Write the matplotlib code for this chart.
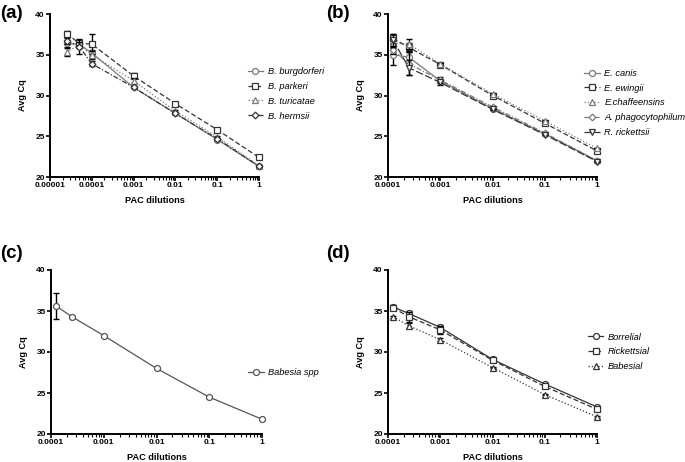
import numpy as np
import matplotlib
matplotlib.use("Agg")
import matplotlib.pyplot as plt
from matplotlib.ticker import LogLocator, FixedLocator, NullFormatter

plt.rcParams['font.family'] = ['Liberation Sans', 'DejaVu Sans']

# ---- data ----
dil_a = [2.5e-5, 5e-5, 1e-4, 1e-3, 1e-2, 1e-1, 1]
burgdorferi = [36.4, 36.3, 35.2, 31.0, 27.8, 24.6, 21.3]
burgdorferi_err = [0.4, 0.3, 0.4, 0.1, 0.1, 0.1, 0.1]
parkeri = [37.6, 36.4, 36.3, 32.4, 29.0, 25.8, 22.4]
parkeri_err = [0.3, 0.4, 1.2, 0.3, 0.1, 0.1, 0.1]
turicatae = [35.3, 36.2, 35.0, 31.8, 28.1, 24.9, 21.4]
turicatae_err = [0.5, 0.4, 0.5, 0.3, 0.1, 0.1, 0.1]
hermsii = [36.7, 36.0, 33.9, 31.0, 27.8, 24.7, 21.3]
hermsii_err = [0.4, 0.9, 0.3, 0.1, 0.1, 0.1, 0.1]

dil_b = [1.25e-4, 2.5e-4, 1e-3, 1e-2, 1e-1, 1]
canis = [35.0, 34.7, 31.8, 28.4, 25.3, 22.0]
canis_err = [1.3, 0.8, 0.2, 0.1, 0.1, 0.1]
ewingii = [37.0, 35.9, 33.8, 30.0, 26.6, 23.2]
ewingii_err = [0.5, 0.6, 0.1, 0.1, 0.1, 0.1]
chaffeensins = [36.4, 36.3, 33.9, 30.2, 26.9, 23.5]
chaffeensins_err = [0.6, 0.6, 0.1, 0.1, 0.1, 0.1]
phagocytophilum = [35.6, 33.9, 31.9, 28.6, 25.4, 22.0]
phagocytophilum_err = [0.5, 1.4, 0.4, 0.1, 0.1, 0.1]
rickettsii = [36.8, 33.4, 31.6, 28.3, 25.2, 21.9]
rickettsii_err = [0.8, 0.9, 0.3, 0.1, 0.1, 0.1]

dil_c = [1.25e-4, 2.5e-4, 1e-3, 1e-2, 1e-1, 1]
babesia = [35.6, 34.3, 32.0, 28.0, 24.5, 21.8]
babesia_err = [1.6, 0.1, 0.1, 0.1, 0.1, 0.1]

dil_d = [1.25e-4, 2.5e-4, 1e-3, 1e-2, 1e-1, 1]
borrelial = [35.5, 34.7, 33.0, 29.1, 26.1, 23.3]
borrelial_err = [0.2, 0.3, 0.3, 0.1, 0.1, 0.1]
rickettsial = [35.4, 34.3, 32.7, 29.0, 25.8, 23.0]
rickettsial_err = [0.2, 0.6, 0.5, 0.1, 0.1, 0.1]
babesial = [34.3, 33.2, 31.5, 28.1, 24.8, 22.1]
babesial_err = [0.1, 0.3, 0.2, 0.1, 0.1, 0.1]

xticks_a = [1e-5, 1e-4, 1e-3, 1e-2, 1e-1, 1]
xlabels_a = ['0.00001', '0.0001', '0.001', '0.01', '0.1', '1']
xticks_b = [1e-4, 1e-3, 1e-2, 1e-1, 1]
xlabels_b = ['0.0001', '0.001', '0.01', '0.1', '1']
yticks = [20, 25, 30, 35, 40]

W, H = 685, 462
fig = plt.figure(figsize=(W / 100, H / 100), dpi=100)


def px_axes(l, r, t, b):
    return fig.add_axes([l / W, 1 - b / H, (r - l) / W, (b - t) / H])


def style(ax, xt, xl):
    ax.set_xscale('log')
    ax.set_xlim(xt[0], xt[-1])
    ax.set_ylim(20, 40)
    ax.xaxis.set_major_locator(FixedLocator(xt))
    ax.set_xticklabels(xl)
    ax.xaxis.set_minor_locator(LogLocator(base=10, subs=np.arange(2, 10)))
    ax.xaxis.set_minor_formatter(NullFormatter())
    ax.set_yticks(yticks)
    for s in ['top', 'right']:
        ax.spines[s].set_visible(False)
    for s in ['left', 'bottom']:
        ax.spines[s].set_linewidth(1.4)
    ax.tick_params(which='major', direction='out', length=3, width=1.2, labelsize=6, pad=0.8)
    ax.tick_params(which='minor', direction='out', length=1.8, width=0.8)
    for lab in ax.get_xticklabels() + ax.get_yticklabels():
        lab.set_fontweight('bold')
    ax.set_xlabel('PAC dilutions', fontsize=6.6, fontweight='bold', labelpad=5)
    ax.set_ylabel('Avg Cq', fontsize=6.6, fontweight='bold', labelpad=6)


def series(ax, x, y, e, label, marker, ls, color, ms=4.3):
    ax.errorbar(x, y, yerr=e, fmt='none', ecolor='black',
                elinewidth=1.0, capsize=2.5, capthick=1.0, clip_on=False)
    ax.plot(x, y, label=label, marker=marker, ls=ls, color=color,
            mfc='white', mec=color, ms=ms, lw=0.9, mew=0.9, clip_on=False)


def legend(ax, x, y):
    leg = ax.legend(loc='center left', bbox_to_anchor=(x, y), frameon=False,
                    handlelength=1.7, handletextpad=0.45, labelspacing=0.62,
                    borderaxespad=0, borderpad=0,
                    prop={'style': 'italic', 'size': 6.7})
    return leg


gray = '#7a7a7a'
dk = '#333333'

# (a)
ax = px_axes(50, 259, 14, 177)
series(ax, dil_a, burgdorferi, burgdorferi_err, 'B. burgdorferi', 'o', '-', gray)
series(ax, dil_a, parkeri, parkeri_err, 'B. parkeri', 's', (0, (4, 2)), dk)
series(ax, dil_a, turicatae, turicatae_err, 'B. turicatae', '^', ':', gray)
series(ax, dil_a, hermsii, hermsii_err, 'B. hermsii', 'D', (0, (4, 1.5, 1, 1.5)), dk, ms=3.4)
style(ax, xticks_a, xlabels_a)
legend(ax, 0.945, 0.51)

# (b)
ax = px_axes(388, 597, 14, 177)
series(ax, dil_b, canis, canis_err, 'E. canis', 'o', '-', gray)
series(ax, dil_b, ewingii, ewingii_err, 'E. ewingii', 's', (0, (4, 2)), dk)
series(ax, dil_b, chaffeensins, chaffeensins_err, 'E.chaffeensins', '^', ':', gray)
series(ax, dil_b, phagocytophilum, phagocytophilum_err, 'A. phagocytophilum', 'D', (0, (4, 1.5, 1, 1.5)), gray, ms=3.4)
series(ax, dil_b, rickettsii, rickettsii_err, 'R. rickettsii', 'v', (0, (6, 2)), dk)
style(ax, xticks_b, xlabels_b)
legend(ax, 0.94, 0.455)

# (c)
ax = px_axes(51, 262, 270, 434)
series(ax, dil_c, babesia, babesia_err, 'Babesia spp', 'o', '-', '#555555')
style(ax, xticks_b, xlabels_b)
legend(ax, 0.935, 0.375)

# (d)
ax = px_axes(388, 597, 270, 434)
series(ax, dil_d, borrelial, borrelial_err, 'Borrelial', 'o', '-', dk)
series(ax, dil_d, rickettsial, rickettsial_err, 'Rickettsial', 's', (0, (4, 2)), dk)
series(ax, dil_d, babesial, babesial_err, 'Babesial', '^', ':', dk)
style(ax, xticks_b, xlabels_b)
legend(ax, 0.955, 0.50)

for lab, x, y in [('(a)', 0, 13), ('(b)', 326, 13), ('(c)', 0, 254), ('(d)', 326, 254)]:
    fig.text(x / W, 1 - y / H, lab, fontsize=13.5, fontweight='bold', va='center', ha='left')

fig.savefig('out.png', dpi=100)
